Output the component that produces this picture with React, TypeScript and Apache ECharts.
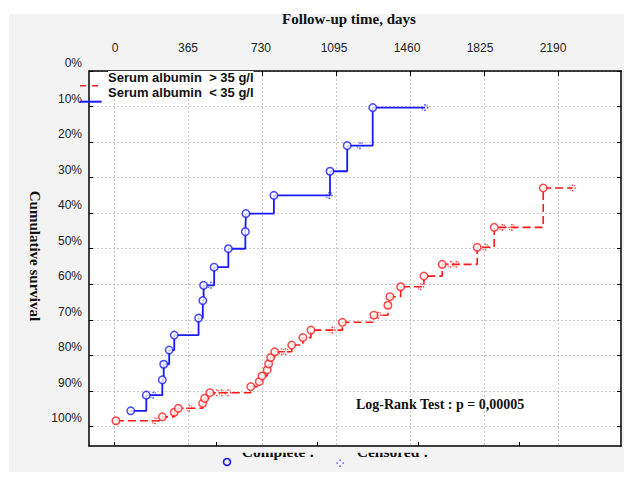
import React, { useEffect, useRef } from 'react';
import * as echarts from 'echarts';

// ---- axis ticks / labels ----
const xTickDays = [0, 365, 730, 1095, 1460, 1825, 2190];
const xBottomTickDays = [0, 500, 1000, 1500, 2000];
const yTickPct = [0, 10, 20, 30, 40, 50, 60, 70, 80, 90, 100];

// ---- Serum albumin < 35 g/l (blue, solid) ----
const blueEventDays = [80, 157, 236, 243, 270, 295, 415, 436, 440, 492, 562, 646, 649, 787, 1064, 1149, 1275];
const blueEventPct = [95.6, 91.2, 86.9, 82.5, 78.5, 74.3, 69.5, 64.6, 60.3, 55.2, 50.0, 45.2, 40.1, 35.0, 28.2, 21.0, 10.3];
const blueCensorDays = [191, 476, 1060, 1212, 1533];
const blueCensorPct = [91.2, 60.3, 35.0, 21.0, 10.3];

// ---- Serum albumin > 35 g/l (red, dashed) ----
const redEventDays = [7, 236, 295, 315, 435, 445, 471, 673, 715, 728, 754, 761, 771, 791, 875, 930, 970, 1125, 1281, 1350, 1360, 1413, 1528, 1618, 1791, 1875, 2117];
const redEventPct = [98.4, 97.3, 96.0, 94.9, 93.5, 92.1, 90.5, 88.8, 87.4, 85.8, 84.1, 82.4, 80.6, 79.0, 77.1, 75.0, 72.9, 70.7, 68.7, 65.9, 63.5, 60.7, 57.7, 54.4, 49.6, 44.0, 32.9];
const redCensorDays = [200, 370, 505, 530, 560, 825, 845, 1075, 1302, 1512, 1660, 1688, 1832, 1915, 1962, 2262];
const redCensorPct = [98.4, 94.9, 90.5, 90.5, 90.5, 79.0, 79.0, 72.9, 68.7, 60.7, 54.4, 54.4, 49.6, 44.0, 44.0, 32.9];

const BLUE = '#1a1aff';
const RED = '#ff1a1a';
const GREY = '#f3f3f3';
const SERIF = '"Liberation Serif", "Times New Roman", serif';
const SANS = '"Liberation Sans", Arial, sans-serif';
const CENSOR_SYMBOL = 'path://M2.5,0h1.4v1.4h-1.4zM0,2.5h1.4v1.4h-1.4zM5,2.5h1.4v1.4h-1.4zM2.5,5h1.4v1.4h-1.4zM4.6,0.6h1v1h-1zM0.6,4.6h1v1h-1z';

function pairs(d: number[], p: number[]) {
  return d.map((v, i) => [v, p[i]]);
}
function stepLine(ed: number[], ep: number[], cd: number[], cp: number[]) {
  const pts = pairs(ed, ep).concat(pairs(cd, cp));
  pts.sort((a, b) => a[0] - b[0]);
  return pts;
}

const gridLine = { show: true, lineStyle: { color: '#c6c6c6', type: [2, 2] as any, width: 1 } };

export default function App() {
  const ref = useRef<HTMLDivElement>(null);
  useEffect(() => {
    document.body.style.margin = '0';
    const chart = echarts.init(ref.current!, null, { renderer: 'svg' });
    const option: any = {
      animation: false,
      grid: { left: 89, top: 71, width: 532, height: 375, show: true, backgroundColor: '#fff', borderWidth: 0 },
      xAxis: [
        {
          type: 'value', position: 'top', min: -126, max: 2501,
          axisLine: { show: true, onZero: false, lineStyle: { color: '#000', width: 1.5 } },
          axisTick: { show: true, inside: true, length: 5, customValues: xTickDays, lineStyle: { color: '#000' } },
          axisLabel: { show: false },
          splitLine: gridLine,
        },
        {
          type: 'value', position: 'bottom', min: -126, max: 2501,
          axisLine: { show: true, onZero: false, lineStyle: { color: '#000', width: 1.5 } },
          axisTick: { show: true, inside: true, length: 4, customValues: xBottomTickDays, lineStyle: { color: '#000' } },
          axisLabel: { show: false },
          splitLine: { show: false },
        },
        {
          type: 'value', position: 'top', min: -130, max: 2530,
          axisLine: { show: false },
          axisTick: { show: false },
          axisLabel: {
            show: true, customValues: xTickDays, margin: 17, color: '#222', fontSize: 12, fontFamily: SANS,
            formatter: (v: number) => String(v),
          },
          splitLine: { show: false },
        },
      ],
      yAxis: [
        {
          type: 'value', inverse: true, min: 0, max: 105.5, interval: 10,
          axisLine: { show: true, onZero: false, lineStyle: { color: '#000', width: 1.5 } },
          axisTick: { show: true, inside: true, length: 4, customValues: yTickPct, lineStyle: { color: '#000' } },
          axisLabel: {
            show: true, customValues: yTickPct, margin: 7, color: '#222', fontSize: 12, fontFamily: SANS,
            verticalAlign: 'bottom', lineHeight: 16,
            formatter: (v: number) => v + '%',
          },
          splitLine: gridLine,
        },
        {
          type: 'value', inverse: true, min: 0, max: 105.5, interval: 10, position: 'right',
          axisLine: { show: true, onZero: false, lineStyle: { color: '#000', width: 1.5 } },
          axisTick: { show: true, inside: true, length: 4, customValues: yTickPct, lineStyle: { color: '#000' } },
          axisLabel: { show: false },
          splitLine: { show: false },
        },
      ],
      series: [
        {
          name: 'Serum albumin > 35 g/l', type: 'line', step: 'end', symbol: 'none',
          data: stepLine(redEventDays, redEventPct, redCensorDays, redCensorPct),
          lineStyle: { color: RED, width: 1.6, type: [8, 4] }, z: 3,
        },
        {
          type: 'scatter', symbol: CENSOR_SYMBOL, symbolSize: 7,
          data: pairs(redCensorDays, redCensorPct), itemStyle: { color: RED }, z: 4,
        },
        {
          type: 'scatter', symbol: 'circle', symbolSize: 7.5,
          data: pairs(redEventDays, redEventPct),
          itemStyle: { color: '#fff', borderColor: RED, borderWidth: 1.5 }, z: 5,
        },
        {
          name: 'Serum albumin < 35 g/l', type: 'line', step: 'end', symbol: 'none',
          data: stepLine(blueEventDays, blueEventPct, blueCensorDays, blueCensorPct),
          lineStyle: { color: BLUE, width: 1.8 }, z: 3,
        },
        {
          type: 'scatter', symbol: CENSOR_SYMBOL, symbolSize: 7,
          data: pairs(blueCensorDays, blueCensorPct), itemStyle: { color: BLUE }, z: 4,
        },
        {
          type: 'scatter', symbol: 'circle', symbolSize: 7.5,
          data: pairs(blueEventDays, blueEventPct),
          itemStyle: { color: '#fff', borderColor: BLUE, borderWidth: 1.5 }, z: 5,
        },
      ],
      graphic: [
        { type: 'text', z: 50, style: { text: 'Follow-up time, days', x: 349, y: 19, align: 'center', verticalAlign: 'middle', font: `bold 15px ${SERIF}`, fill: '#111' } },
        { type: 'text', z: 50, x: 35, y: 256, rotation: -Math.PI / 2, style: { text: 'Cumulative survival', x: 0, y: 0, align: 'center', verticalAlign: 'middle', font: `bold 15px ${SERIF}`, fill: '#111' } },
        { type: 'text', z: 50, style: { text: 'Serum albumin  > 35 g/l', x: 108, y: 77.5, verticalAlign: 'middle', font: `bold 13px ${SANS}`, fill: '#111', backgroundColor: '#fff' } },
        { type: 'text', z: 50, style: { text: 'Serum albumin  < 35 g/l', x: 108, y: 92, verticalAlign: 'middle', font: `bold 13px ${SANS}`, fill: '#111', backgroundColor: '#fff' } },
        { type: 'line', z: 60, shape: { x1: 80, y1: 85.7, x2: 98.5, y2: 85.7 }, style: { stroke: RED, lineWidth: 1.5, lineDash: [6, 6] } },
        { type: 'line', z: 60, shape: { x1: 79.5, y1: 101.7, x2: 101.7, y2: 101.7 }, style: { stroke: BLUE, lineWidth: 2 } },
        { type: 'text', z: 50, style: { text: 'Log-Rank Test : p = 0,00005', x: 356, y: 404, verticalAlign: 'middle', font: `bold 14px ${SERIF}`, fill: '#111' } },
        // bottom legend (text partly hidden at its top, as in the reference)
        { type: 'text', z: 50, style: { text: 'Complete :', x: 241.7, y: 451, verticalAlign: 'middle', font: `bold 15.5px ${SERIF}`, fill: '#111' } },
        { type: 'text', z: 50, style: { text: 'Censored :', x: 356.7, y: 451, verticalAlign: 'middle', font: `bold 15.5px ${SERIF}`, fill: '#111' } },
        { type: 'rect', z: 55, shape: { x: 230, y: 447, width: 215, height: 5.8 }, style: { fill: GREY } },
        { type: 'circle', z: 60, shape: { cx: 227, cy: 462, r: 3.5 }, style: { fill: 'none', stroke: BLUE, lineWidth: 1.6 } },
        { type: 'rect', z: 60, shape: { x: 339.5, y: 459.5, width: 1.2, height: 1.2 }, style: { fill: BLUE } },
        { type: 'rect', z: 60, shape: { x: 336.5, y: 462.5, width: 1.2, height: 1.2 }, style: { fill: BLUE } },
        { type: 'rect', z: 60, shape: { x: 342.5, y: 462.5, width: 1.2, height: 1.2 }, style: { fill: BLUE } },
        { type: 'rect', z: 60, shape: { x: 339.5, y: 465.5, width: 1.2, height: 1.2 }, style: { fill: BLUE } },
      ],
    };
    chart.setOption(option);
    return () => chart.dispose();
  }, []);
  return (
    <div style={{ position: 'relative', width: 624, height: 477, background: '#fff' }}>
      <div style={{ position: 'absolute', left: 9, top: 14, width: 615, height: 458, background: GREY }} />
      <div ref={ref} style={{ position: 'absolute', left: 0, top: 0, width: 624, height: 477 }} />
    </div>
  );
}
